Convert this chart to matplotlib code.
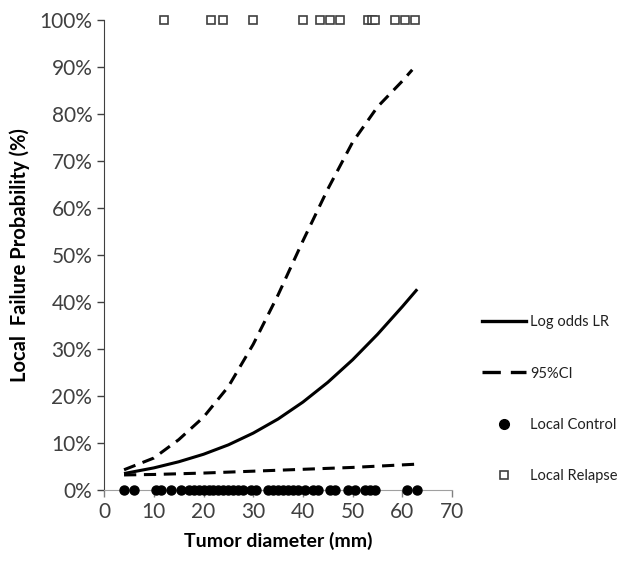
import matplotlib.pyplot as plt
from matplotlib.lines import Line2D

plt.rcParams['font.family'] = ['Lato', 'DejaVu Sans']

# fitted curve and 95% CI (%)
x_fit = [4, 10, 15, 20, 25, 30, 35, 40, 45, 50, 55, 60, 63]
p_fit = [3.5, 4.7, 6.0, 7.6, 9.6, 12.1, 15.1, 18.7, 22.9, 27.7, 33.1, 39.0, 42.7]
x_up = [4, 10, 15, 20, 25, 30, 35, 40, 45, 50, 55, 60, 62]
p_up = [4.3, 6.8, 10.7, 15.5, 22.0, 31.0, 41.5, 53.0, 64.0, 74.0, 81.5, 87.0, 89.4]
x_lo = [4, 10, 20, 30, 40, 50, 63]
p_lo = [3.2, 3.3, 3.6, 4.0, 4.4, 4.8, 5.5]

# observed tumours (mm)
local_control = [4, 6, 10.5, 11.5, 13.5, 15.5, 17, 18, 19, 20, 21, 22, 23, 24,
                 25, 26, 27, 28, 29.5, 30.5, 33, 34, 35, 36, 37, 38, 39, 40.5,
                 42, 43, 45.5, 46.5, 49, 50.5, 52.5, 53.5, 54.5, 61, 63]
local_relapse = [12, 21.5, 24, 30, 40, 43.5, 45.5, 47.5, 53, 54, 54.5, 58.5,
                 60.5, 62.5]

fig = plt.figure(figsize=(6.2, 5.63), dpi=100)
ax = fig.add_axes([0.168, 0.1297, 0.561, 0.8348])

dash = (4, 2.5)
ax.plot(x_fit, p_fit, color='black', lw=2.2, solid_capstyle='butt')
ax.plot(x_up, p_up, color='black', lw=2.2, dashes=dash)
ax.plot(x_lo, p_lo, color='black', lw=2.2, dashes=dash)
ax.plot(local_control, [0] * len(local_control), 'o', color='black', ms=6.5,
        clip_on=False, zorder=5)
ax.plot(local_relapse, [100] * len(local_relapse), 's', mfc='white',
        mec='#404040', mew=1.2, ms=6, clip_on=False, zorder=5)

ax.set_xlim(0, 70)
ax.set_ylim(0, 100)
ax.set_xticks(range(0, 71, 10))
ax.set_yticks(range(0, 101, 10))
ax.set_yticklabels([f'{v}%' for v in range(0, 101, 10)])
ax.tick_params(labelsize=15, labelcolor='#404040', color='#808080',
               length=5, width=1)
ax.tick_params(axis='y', color='#404040')
for s in ['top', 'right']:
    ax.spines[s].set_visible(False)
ax.spines['left'].set_color('#404040')
ax.spines['bottom'].set_color('#a0a0a0')

ax.set_xlabel('Tumor diameter (mm)', fontsize=14, fontweight='bold', labelpad=7)
ax.set_ylabel('Local  Failure Probability (%)', fontsize=14.5, fontweight='bold',
              labelpad=7)

handles = [
    Line2D([], [], color='black', lw=2.4),
    Line2D([], [], color='black', lw=2.4, dashes=(5.5, 3)),
    Line2D([], [], marker='o', ls='none', color='black', ms=7),
    Line2D([], [], marker='s', ls='none', mfc='white', mec='#404040', mew=1.2, ms=6),
]
labels = ['Log odds LR', '95%CI', 'Local Control', 'Local Relapse']
fig.legend(handles, labels, loc='center left', bbox_to_anchor=(0.757, 0.291),
           frameon=False, fontsize=10.5, handlelength=3.0, handletextpad=0.25,
           labelspacing=2.55, labelcolor='#202020')

fig.savefig('out.png', dpi=100)
